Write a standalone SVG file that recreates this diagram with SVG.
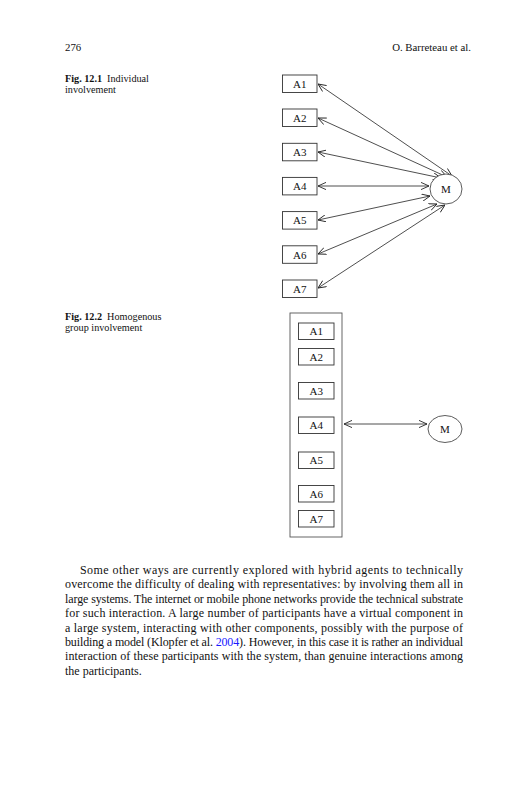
<svg xmlns="http://www.w3.org/2000/svg" width="527" height="800" viewBox="0 0 527 800">
<style>
text{font-family:"Liberation Serif","Times New Roman",serif;fill:#111}
.hdr{font-size:10.8px}
.cap{font-size:10.2px}
.capb{font-weight:bold}
.lbl{font-size:11px;text-anchor:middle}
.body{font-size:12px}
.box{fill:#fff;stroke:#333;stroke-width:0.9}
.ell{fill:#fff;stroke:#333;stroke-width:0.8}
.con{stroke:#222;stroke-width:0.8;fill:none;marker-start:url(#ah);marker-end:url(#ah)}
</style>
<defs>
<marker id="ah" viewBox="0 0 10 10" refX="10" refY="5" markerWidth="8" markerHeight="8" markerUnits="userSpaceOnUse" orient="auto-start-reverse">
<path d="M0,0.5 L10,5 L0,9.5" fill="none" stroke="#222" stroke-width="1.1"/>
</marker>
</defs>
<rect width="527" height="800" fill="#fff"/>
<text class="hdr" x="65" y="51">276</text>
<text class="hdr" x="471" y="51" text-anchor="end">O. Barreteau et al.</text>

<text class="cap" x="65" y="82"><tspan class="capb">Fig. 12.1</tspan><tspan dx="5">Individual</tspan></text>
<text class="cap" x="65" y="93">involvement</text>

<g id="fig1-connectors">
<line class="con" x1="318" y1="84" x2="452" y2="176"/>
<line class="con" x1="318" y1="118" x2="447" y2="177"/>
<line class="con" x1="318" y1="152" x2="441" y2="178"/>
<line class="con" x1="318" y1="186" x2="429" y2="186"/>
<line class="con" x1="318" y1="220" x2="430" y2="196"/>
<line class="con" x1="318" y1="254" x2="437" y2="204"/>
<line class="con" x1="318" y1="288" x2="445" y2="205"/>
</g>
<g id="f1-A1"><rect class="box" x="282.5" y="75" width="34.5" height="17.5"/><text class="lbl" x="299.7" y="87.8">A1</text></g>
<g id="f1-A2"><rect class="box" x="282.5" y="109" width="34.5" height="17.5"/><text class="lbl" x="299.7" y="121.8">A2</text></g>
<g id="f1-A3"><rect class="box" x="282.5" y="143.3" width="34.5" height="17.5"/><text class="lbl" x="299.7" y="156.1">A3</text></g>
<g id="f1-A4"><rect class="box" x="282.5" y="177.4" width="34.5" height="17.5"/><text class="lbl" x="299.7" y="190.2">A4</text></g>
<g id="f1-A5"><rect class="box" x="282.5" y="211.6" width="34.5" height="17.5"/><text class="lbl" x="299.7" y="224.4">A5</text></g>
<g id="f1-A6"><rect class="box" x="282.5" y="245.8" width="34.5" height="17.5"/><text class="lbl" x="299.7" y="258.6">A6</text></g>
<g id="f1-A7"><rect class="box" x="282.5" y="280" width="34.5" height="17.5"/><text class="lbl" x="299.7" y="292.8">A7</text></g>
<g id="f1-M"><ellipse class="ell" cx="446" cy="189" rx="16" ry="15"/><text class="lbl" x="446" y="193">M</text></g>

<text class="cap" x="65" y="320"><tspan class="capb">Fig. 12.2</tspan><tspan dx="5">Homogenous</tspan></text>
<text class="cap" x="65" y="331">group involvement</text>

<g id="f2-group"><rect x="290" y="313" width="52" height="224" fill="none" stroke="#555" stroke-width="0.9"/></g>
<g id="f2-A1"><rect class="box" x="298.5" y="323" width="35.5" height="16.5"/><text class="lbl" x="316.2" y="335.3">A1</text></g>
<g id="f2-A2"><rect class="box" x="298.5" y="348.5" width="35.5" height="16.5"/><text class="lbl" x="316.2" y="360.8">A2</text></g>
<g id="f2-A3"><rect class="box" x="298.5" y="382.5" width="35.5" height="16.5"/><text class="lbl" x="316.2" y="394.8">A3</text></g>
<g id="f2-A4"><rect class="box" x="298.5" y="417" width="35.5" height="16.5"/><text class="lbl" x="316.2" y="429.3">A4</text></g>
<g id="f2-A5"><rect class="box" x="298.5" y="452" width="35.5" height="16.5"/><text class="lbl" x="316.2" y="464.3">A5</text></g>
<g id="f2-A6"><rect class="box" x="298.5" y="485.5" width="35.5" height="16.5"/><text class="lbl" x="316.2" y="497.8">A6</text></g>
<g id="f2-A7"><rect class="box" x="298.5" y="510.5" width="35.5" height="16.5"/><text class="lbl" x="316.2" y="522.8">A7</text></g>
<g id="fig2-connectors">
<line class="con" x1="344" y1="424" x2="427" y2="424"/>
</g>
<g id="f2-M"><ellipse class="ell" cx="445" cy="429" rx="17" ry="13.5"/><text class="lbl" x="445" y="433">M</text></g>

<text class="body" x="80" y="574" textLength="383" lengthAdjust="spacing">Some other ways are currently explored with hybrid agents to technically</text>
<text class="body" x="65" y="588.4" textLength="398" lengthAdjust="spacing">overcome the difficulty of dealing with representatives: by involving them all in</text>
<text class="body" x="65" y="602.8" textLength="398" lengthAdjust="spacing">large systems. The internet or mobile phone networks provide the technical substrate</text>
<text class="body" x="65" y="617.2" textLength="398" lengthAdjust="spacing">for such interaction. A large number of participants have a virtual component in</text>
<text class="body" x="65" y="631.6" textLength="398" lengthAdjust="spacing">a large system, interacting with other components, possibly with the purpose of</text>
<text class="body" x="65" y="646" textLength="398" lengthAdjust="spacing">building a model (Klopfer et al. <tspan fill="#1a1aff">2004</tspan>). However, in this case it is rather an individual</text>
<text class="body" x="65" y="660.4" textLength="398" lengthAdjust="spacing">interaction of these participants with the system, than genuine interactions among</text>
<text class="body" x="65" y="674.8">the participants.</text>
</svg>
